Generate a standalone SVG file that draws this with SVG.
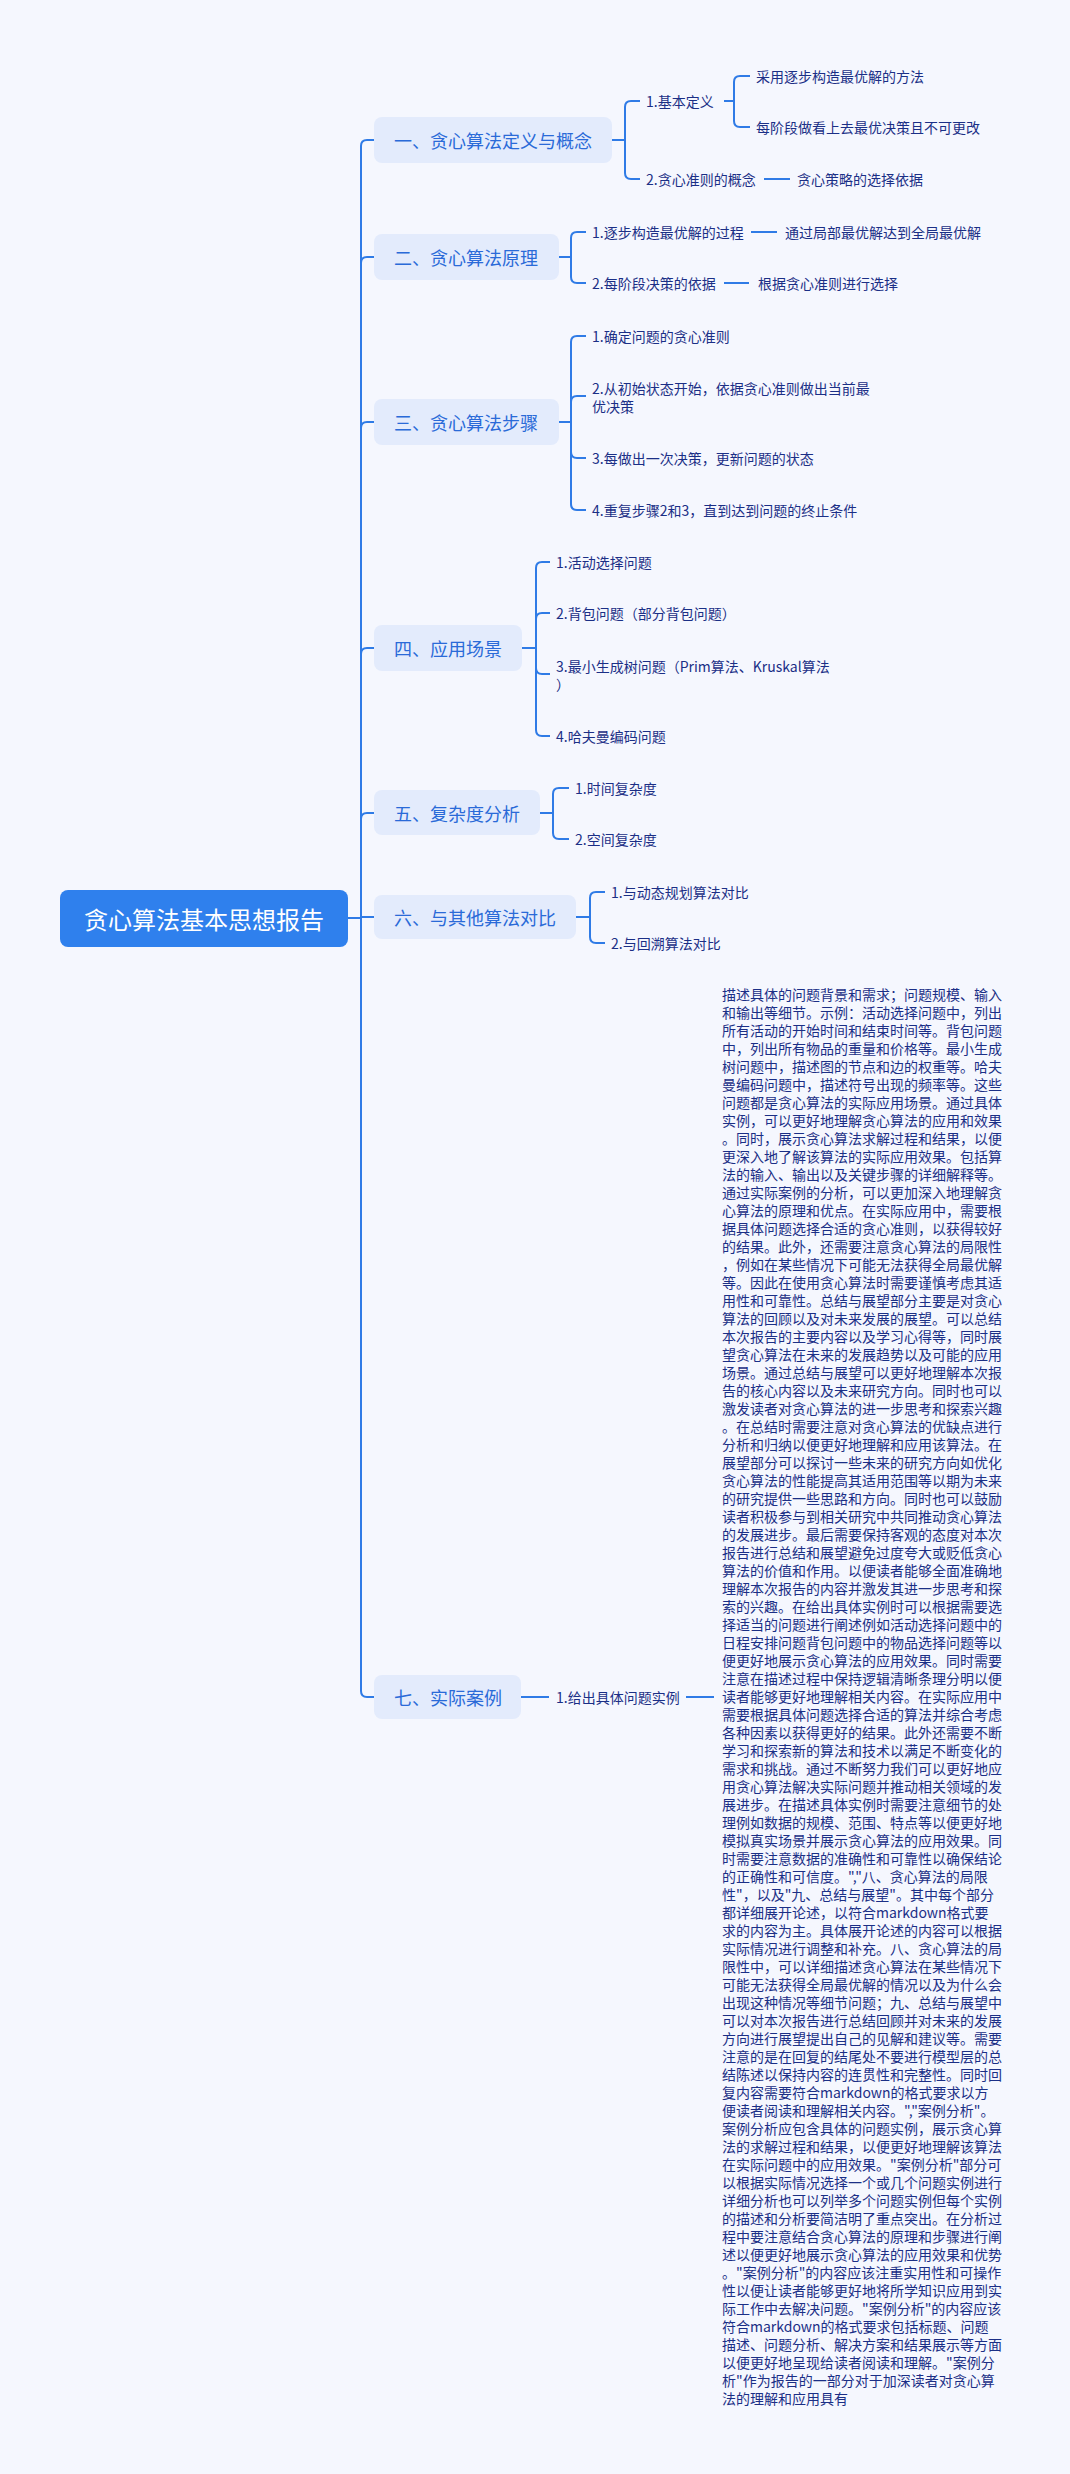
<svg xmlns="http://www.w3.org/2000/svg" width="1070" height="2474" viewBox="0 0 1070 2474">
<style>
.bg{fill:#f5f7fe}
.br rect{fill:#e3ebfc}
.br text{font-family:"Noto Sans CJK SC","Noto Sans",sans-serif;font-size:18px;fill:#2a6ad8;dominant-baseline:central}
.lf{font-family:"Noto Sans CJK SC","Noto Sans",sans-serif;font-size:14px;fill:#1b2f86;dominant-baseline:central}
.body{font-family:"Noto Sans CJK SC","Noto Sans",sans-serif;font-size:14px;fill:#1b2f86}
.c path{fill:none;stroke:#2f7be6;stroke-width:2}
</style>
<rect class="bg" x="0" y="0" width="1070" height="2474"/>
<g class="c">
<path d="M348 918 H361 V146 Q361 140 367 140 H374"/>
<path d="M361 263 Q361 257 367 257 H374"/>
<path d="M361 428 Q361 422 367 422 H374"/>
<path d="M361 654 Q361 648 367 648 H374"/>
<path d="M361 819 Q361 813 367 813 H374"/>
<path d="M361 917 H374"/>
<path d="M361 918 V1691 Q361 1697 367 1697 H374"/>
<path d="M612 140 H625 V107 Q625 101 631 101 H640 M625 140 V173 Q625 179 631 179 H640"/>
<path d="M724 101 H734 V82 Q734 76 740 76 H750 M734 101 V121 Q734 127 740 127 H750"/>
<path d="M764 179 H790"/>
<path d="M559 257 H571 V238 Q571 232 577 232 H586 M571 257 V277 Q571 283 577 283 H586"/>
<path d="M751 232 H777 M724 283 H749"/>
<path d="M559 422 H571 V342 Q571 336 577 336 H586 M571 402 Q571 396 577 396 H586 M571 422 V504 Q571 510 577 510 H586 M571 452 Q571 458 577 458 H586"/>
<path d="M522 648 H536 V568 Q536 562 542 562 H550 M536 619 Q536 613 542 613 H550 M536 648 V730 Q536 736 542 736 H550 M536 668 Q536 674 542 674 H550"/>
<path d="M540 813 H553 V794 Q553 788 559 788 H569 M553 813 V833 Q553 839 559 839 H569"/>
<path d="M576 917 H590 V898 Q590 892 596 892 H605 M590 917 V937 Q590 943 596 943 H605"/>
<path d="M521 1697 H549 M686 1697 H714"/>
</g>
<g id="root"><rect x="60" y="890" width="288" height="57" rx="8" fill="#2f80ed"/><text x="204" y="918.5" text-anchor="middle" font-family="Noto Sans CJK SC,Noto Sans,sans-serif" font-size="24" fill="#ffffff" dominant-baseline="central">贪心算法基本思想报告</text></g>
<g id="b1" class="br"><rect x="374" y="117" width="238" height="46" rx="8"/><text x="394" y="140">一、贪心算法定义与概念</text></g>
<g id="b2" class="br"><rect x="374" y="234" width="185" height="46" rx="8"/><text x="394" y="257">二、贪心算法原理</text></g>
<g id="b3" class="br"><rect x="374" y="399" width="185" height="46" rx="8"/><text x="394" y="422">三、贪心算法步骤</text></g>
<g id="b4" class="br"><rect x="374" y="625" width="148" height="46" rx="8"/><text x="394" y="648">四、应用场景</text></g>
<g id="b5" class="br"><rect x="374" y="790" width="166" height="45" rx="8"/><text x="394" y="813">五、复杂度分析</text></g>
<g id="b6" class="br"><rect x="374" y="895" width="202" height="44" rx="8"/><text x="394" y="917">六、与其他算法对比</text></g>
<g id="b7" class="br"><rect x="374" y="1675" width="147" height="44" rx="8"/><text x="394" y="1697">七、实际案例</text></g>
<g id="leaves">
<text class="lf" x="646" y="101">1.基本定义</text>
<text class="lf" x="756" y="76">采用逐步构造最优解的方法</text>
<text class="lf" x="756" y="127">每阶段做看上去最优决策且不可更改</text>
<text class="lf" x="646" y="179">2.贪心准则的概念</text>
<text class="lf" x="797" y="179">贪心策略的选择依据</text>
<text class="lf" x="592" y="232">1.逐步构造最优解的过程</text>
<text class="lf" x="785" y="232">通过局部最优解达到全局最优解</text>
<text class="lf" x="592" y="283">2.每阶段决策的依据</text>
<text class="lf" x="758" y="283">根据贪心准则进行选择</text>
<text class="lf" x="592" y="336">1.确定问题的贪心准则</text>
<text class="lf" x="592" y="388">2.从初始状态开始，依据贪心准则做出当前最</text>
<text class="lf" x="592" y="406">优决策</text>
<text class="lf" x="592" y="458">3.每做出一次决策，更新问题的状态</text>
<text class="lf" x="592" y="510">4.重复步骤2和3，直到达到问题的终止条件</text>
<text class="lf" x="556" y="562">1.活动选择问题</text>
<text class="lf" x="556" y="613">2.背包问题（部分背包问题）</text>
<text class="lf" x="556" y="666">3.最小生成树问题（Prim算法、Kruskal算法</text>
<text class="lf" x="556" y="684">）</text>
<text class="lf" x="556" y="736">4.哈夫曼编码问题</text>
<text class="lf" x="575" y="788">1.时间复杂度</text>
<text class="lf" x="575" y="839">2.空间复杂度</text>
<text class="lf" x="611" y="892">1.与动态规划算法对比</text>
<text class="lf" x="611" y="943">2.与回溯算法对比</text>
<text class="lf" x="556" y="1697">1.给出具体问题实例</text>
</g>
<g id="body"><text class="body" x="722" y="1000">
<tspan x="722" dy="0">描述具体的问题背景和需求；问题规模、输入</tspan>
<tspan x="722" dy="18">和输出等细节。示例：活动选择问题中，列出</tspan>
<tspan x="722" dy="18">所有活动的开始时间和结束时间等。背包问题</tspan>
<tspan x="722" dy="18">中，列出所有物品的重量和价格等。最小生成</tspan>
<tspan x="722" dy="18">树问题中，描述图的节点和边的权重等。哈夫</tspan>
<tspan x="722" dy="18">曼编码问题中，描述符号出现的频率等。这些</tspan>
<tspan x="722" dy="18">问题都是贪心算法的实际应用场景。通过具体</tspan>
<tspan x="722" dy="18">实例，可以更好地理解贪心算法的应用和效果</tspan>
<tspan x="722" dy="18">。同时，展示贪心算法求解过程和结果，以便</tspan>
<tspan x="722" dy="18">更深入地了解该算法的实际应用效果。包括算</tspan>
<tspan x="722" dy="18">法的输入、输出以及关键步骤的详细解释等。</tspan>
<tspan x="722" dy="18">通过实际案例的分析，可以更加深入地理解贪</tspan>
<tspan x="722" dy="18">心算法的原理和优点。在实际应用中，需要根</tspan>
<tspan x="722" dy="18">据具体问题选择合适的贪心准则，以获得较好</tspan>
<tspan x="722" dy="18">的结果。此外，还需要注意贪心算法的局限性</tspan>
<tspan x="722" dy="18">，例如在某些情况下可能无法获得全局最优解</tspan>
<tspan x="722" dy="18">等。因此在使用贪心算法时需要谨慎考虑其适</tspan>
<tspan x="722" dy="18">用性和可靠性。总结与展望部分主要是对贪心</tspan>
<tspan x="722" dy="18">算法的回顾以及对未来发展的展望。可以总结</tspan>
<tspan x="722" dy="18">本次报告的主要内容以及学习心得等，同时展</tspan>
<tspan x="722" dy="18">望贪心算法在未来的发展趋势以及可能的应用</tspan>
<tspan x="722" dy="18">场景。通过总结与展望可以更好地理解本次报</tspan>
<tspan x="722" dy="18">告的核心内容以及未来研究方向。同时也可以</tspan>
<tspan x="722" dy="18">激发读者对贪心算法的进一步思考和探索兴趣</tspan>
<tspan x="722" dy="18">。在总结时需要注意对贪心算法的优缺点进行</tspan>
<tspan x="722" dy="18">分析和归纳以便更好地理解和应用该算法。在</tspan>
<tspan x="722" dy="18">展望部分可以探讨一些未来的研究方向如优化</tspan>
<tspan x="722" dy="18">贪心算法的性能提高其适用范围等以期为未来</tspan>
<tspan x="722" dy="18">的研究提供一些思路和方向。同时也可以鼓励</tspan>
<tspan x="722" dy="18">读者积极参与到相关研究中共同推动贪心算法</tspan>
<tspan x="722" dy="18">的发展进步。最后需要保持客观的态度对本次</tspan>
<tspan x="722" dy="18">报告进行总结和展望避免过度夸大或贬低贪心</tspan>
<tspan x="722" dy="18">算法的价值和作用。以便读者能够全面准确地</tspan>
<tspan x="722" dy="18">理解本次报告的内容并激发其进一步思考和探</tspan>
<tspan x="722" dy="18">索的兴趣。在给出具体实例时可以根据需要选</tspan>
<tspan x="722" dy="18">择适当的问题进行阐述例如活动选择问题中的</tspan>
<tspan x="722" dy="18">日程安排问题背包问题中的物品选择问题等以</tspan>
<tspan x="722" dy="18">便更好地展示贪心算法的应用效果。同时需要</tspan>
<tspan x="722" dy="18">注意在描述过程中保持逻辑清晰条理分明以便</tspan>
<tspan x="722" dy="18">读者能够更好地理解相关内容。在实际应用中</tspan>
<tspan x="722" dy="18">需要根据具体问题选择合适的算法并综合考虑</tspan>
<tspan x="722" dy="18">各种因素以获得更好的结果。此外还需要不断</tspan>
<tspan x="722" dy="18">学习和探索新的算法和技术以满足不断变化的</tspan>
<tspan x="722" dy="18">需求和挑战。通过不断努力我们可以更好地应</tspan>
<tspan x="722" dy="18">用贪心算法解决实际问题并推动相关领域的发</tspan>
<tspan x="722" dy="18">展进步。在描述具体实例时需要注意细节的处</tspan>
<tspan x="722" dy="18">理例如数据的规模、范围、特点等以便更好地</tspan>
<tspan x="722" dy="18">模拟真实场景并展示贪心算法的应用效果。同</tspan>
<tspan x="722" dy="18">时需要注意数据的准确性和可靠性以确保结论</tspan>
<tspan x="722" dy="18">的正确性和可信度。","八、贪心算法的局限</tspan>
<tspan x="722" dy="18">性"，以及"九、总结与展望"。其中每个部分</tspan>
<tspan x="722" dy="18">都详细展开论述，以符合markdown格式要</tspan>
<tspan x="722" dy="18">求的内容为主。具体展开论述的内容可以根据</tspan>
<tspan x="722" dy="18">实际情况进行调整和补充。八、贪心算法的局</tspan>
<tspan x="722" dy="18">限性中，可以详细描述贪心算法在某些情况下</tspan>
<tspan x="722" dy="18">可能无法获得全局最优解的情况以及为什么会</tspan>
<tspan x="722" dy="18">出现这种情况等细节问题；九、总结与展望中</tspan>
<tspan x="722" dy="18">可以对本次报告进行总结回顾并对未来的发展</tspan>
<tspan x="722" dy="18">方向进行展望提出自己的见解和建议等。需要</tspan>
<tspan x="722" dy="18">注意的是在回复的结尾处不要进行模型层的总</tspan>
<tspan x="722" dy="18">结陈述以保持内容的连贯性和完整性。同时回</tspan>
<tspan x="722" dy="18">复内容需要符合markdown的格式要求以方</tspan>
<tspan x="722" dy="18">便读者阅读和理解相关内容。","案例分析"。</tspan>
<tspan x="722" dy="18">案例分析应包含具体的问题实例，展示贪心算</tspan>
<tspan x="722" dy="18">法的求解过程和结果，以便更好地理解该算法</tspan>
<tspan x="722" dy="18">在实际问题中的应用效果。"案例分析"部分可</tspan>
<tspan x="722" dy="18">以根据实际情况选择一个或几个问题实例进行</tspan>
<tspan x="722" dy="18">详细分析也可以列举多个问题实例但每个实例</tspan>
<tspan x="722" dy="18">的描述和分析要简洁明了重点突出。在分析过</tspan>
<tspan x="722" dy="18">程中要注意结合贪心算法的原理和步骤进行阐</tspan>
<tspan x="722" dy="18">述以便更好地展示贪心算法的应用效果和优势</tspan>
<tspan x="722" dy="18">。"案例分析"的内容应该注重实用性和可操作</tspan>
<tspan x="722" dy="18">性以便让读者能够更好地将所学知识应用到实</tspan>
<tspan x="722" dy="18">际工作中去解决问题。"案例分析"的内容应该</tspan>
<tspan x="722" dy="18">符合markdown的格式要求包括标题、问题</tspan>
<tspan x="722" dy="18">描述、问题分析、解决方案和结果展示等方面</tspan>
<tspan x="722" dy="18">以便更好地呈现给读者阅读和理解。"案例分</tspan>
<tspan x="722" dy="18">析"作为报告的一部分对于加深读者对贪心算</tspan>
<tspan x="722" dy="18">法的理解和应用具有</tspan>
</text></g>
</svg>
